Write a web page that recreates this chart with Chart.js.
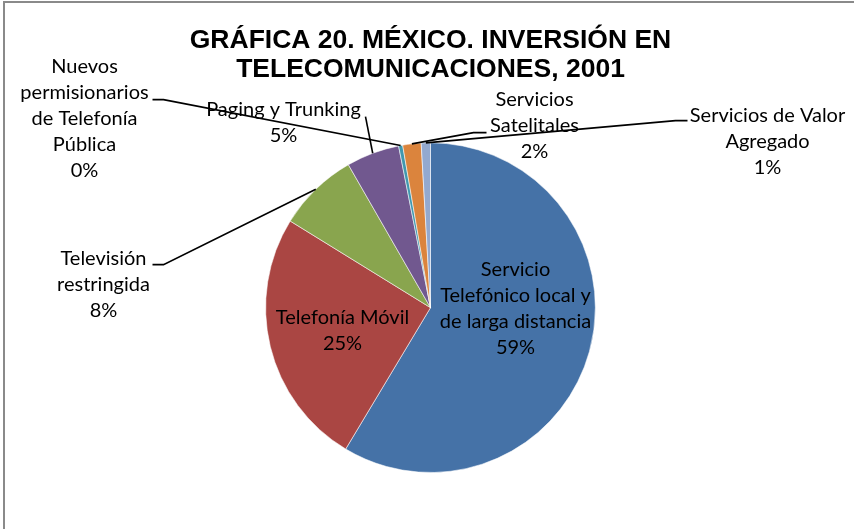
<!DOCTYPE html>
<html lang="es">
<head>
  <meta charset="UTF-8">
  <title>Inversión en telecomunicaciones 2001</title>
  <script src="https://cdn.jsdelivr.net/npm/chart.js"></script>
  <style>
    body {
      margin: 0;
      overflow: hidden;
      background: #fff;
    }
    #frame {
      position: absolute;
      left: 3px;
      top: 1px;
      width: 900px;
      height: 600px;
      border: 2px solid #8a8a8a;
    }
    #investChart {
      position: absolute;
      left: 0;
      top: 0;
    }
  </style>
</head>
<body>
  <div id="frame"></div>
  <canvas id="investChart" width="854" height="529"></canvas>

  <script>
    // categorías (en orden, a partir de las 12 en punto)
    const categories = [
      ['Servicio', 'Telefónico local y', 'de larga distancia'],
      ['Telefonía Móvil'],
      ['Televisión', 'restringida'],
      ['Paging y Trunking'],
      ['Nuevos', 'permisionarios', 'de Telefonía', 'Pública'],
      ['Servicios', 'Satelitales'],
      ['Servicios de Valor', 'Agregado']
    ];
    // participación en la inversión total (%)
    const shares = [58.6, 25.2, 7.9, 5.2, 0.4, 1.8, 0.9];
    const sliceColors = ['#4572A7', '#AA4643', '#89A54E', '#71588F', '#4198AF', '#DB843D', '#93A9CF'];
    const titleLines = ['GRÁFICA 20. MÉXICO. INVERSIÓN EN', 'TELECOMUNICACIONES, 2001'];

    // dónde va cada etiqueta, relativo al centro del pastel
    const labelSpots = [
      [85, 1], [-88, 23], [-327, -23], [-147, -185], [-346, -189], [104, -182], [337, -166]
    ];
    // guías: codo relativo al centro y largo del tramo horizontal (null = sin guía)
    const leaders = [
      null, null, [-267, -43, -11], [-65, -191, 0], [-267, -208, -11], [43, -175, 13], [245, -187, 12]
    ];

    const LINE_H = 26;
    const labelFont = '20px Lato, "Open Sans", sans-serif';

    const pieLabels = {
      id: 'pieLabels',
      afterDatasetsDraw(chart) {
        const ctx = chart.ctx;
        const arcs = chart.getDatasetMeta(0).data;
        const total = shares.reduce((s, v) => s + v, 0);
        ctx.save();
        arcs.forEach((arc, i) => {
          const cx = arc.x, cy = arc.y;
          const lead = leaders[i];
          if (lead) {
            const mid = (arc.startAngle + arc.endAngle) / 2;
            const px = cx + Math.cos(mid) * arc.outerRadius;
            const py = cy + Math.sin(mid) * arc.outerRadius;
            const ex = cx + lead[0], ey = cy + lead[1];
            ctx.beginPath();
            ctx.moveTo(px, py);
            ctx.lineTo(ex, ey);
            ctx.lineTo(ex + lead[2], ey);
            ctx.strokeStyle = '#000';
            ctx.lineWidth = 1.6;
            ctx.stroke();
          }
          const lines = categories[i].concat([Math.round(shares[i] / total * 100) + '%']);
          const bx = cx + labelSpots[i][0];
          const by = cy + labelSpots[i][1] - (lines.length - 1) * LINE_H / 2;
          ctx.font = labelFont;
          ctx.fillStyle = '#000';
          ctx.textAlign = 'center';
          ctx.textBaseline = 'middle';
          lines.forEach((t, k) => ctx.fillText(t, bx, by + k * LINE_H));
        });
        ctx.restore();
      }
    };

    new Chart(document.getElementById('investChart'), {
      type: 'pie',
      data: {
        labels: categories.map(c => c.join(' ')),
        datasets: [{
          data: shares,
          backgroundColor: sliceColors,
          borderColor: 'rgba(255,255,255,0.55)',
          borderWidth: 1
        }]
      },
      options: {
        responsive: false,
        animation: false,
        layout: { padding: { left: 100, right: 93, top: 0, bottom: 56 } },
        plugins: {
          legend: { display: false },
          tooltip: { enabled: false },
          title: {
            display: true,
            text: titleLines,
            color: '#000',
            font: { family: '"Liberation Sans", Arial, sans-serif', size: 26.5, weight: 'bold', lineHeight: 1.1 },
            padding: { top: 26, bottom: 58 }
          }
        }
      },
      plugins: [pieLabels]
    });
  </script>
</body>
</html>
